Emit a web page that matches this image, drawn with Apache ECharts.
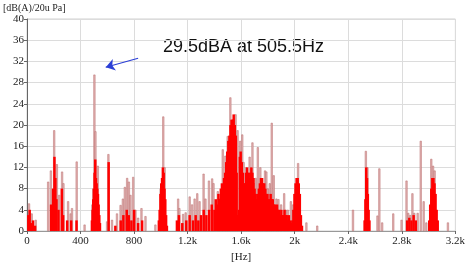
<!DOCTYPE html>
<html>
<head>
<meta charset="utf-8">
<script src="https://cdn.jsdelivr.net/npm/echarts@6/dist/echarts.min.js"></script>
<style>
  html, body { margin: 0; padding: 0; background: #fff; }
  #chart { width: 468px; height: 268px; }
</style>
</head>
<body>
<div id="chart"></div>
<script>
// peak-hold spikes [Hz, dB(A)]
const peakSpikes = [
  [17, 5.2], [37, 3.3], [67, 2.1],
  [160, 9.3], [180, 11.4], [205, 19], [225, 12.6], [242, 6.8], [264, 11.2], [274, 9],
  [309, 5.6], [328, 3.3], [338, 4.3], [373, 13.1], [432, 1.2],
  [490, 5], [497, 8], [505.5, 29.5], [513, 18.8], [531, 12.3], [600, 1.8], [610, 14.5],
  [637, 2.1], [674, 3.3], [701, 4.9], [718, 6.1], [733, 8.3], [750, 10], [763, 9.3],
  [775, 6.8], [795, 10.2], [812, 4], [832, 2.5], [857, 4.3], [887, 2.8], [961, 1.2],
  [1000, 8], [1020, 21.6], [1030, 12],
  [1131, 6.1], [1140, 4.3], [1168, 3.2], [1187, 3.5], [1217, 6.5], [1235, 5], [1254, 6.1],
  [1274, 7.1], [1291, 5.6], [1321, 10.8], [1335, 6.1], [1361, 9.5], [1385, 9.9], [1395, 9],
  [1427, 7.5], [1440, 6.1], [1464, 15.4], [1484, 14.2], [1501, 17.9], [1521, 25.2],
  [1538, 21], [1548, 21.2], [1560, 22], [1575, 19], [1595, 17],
  [1610, 18.2], [1620, 13], [1640, 12], [1655, 11], [1665, 14], [1686, 16.7], [1700, 9],
  [1710, 10], [1726, 15.8], [1745, 12], [1760, 9], [1780, 11.4], [1790, 11.2], [1800, 8],
  [1815, 9], [1830, 20.4], [1845, 10.5], [1865, 6.1], [1880, 6], [1900, 5], [1923, 7.1],
  [1935, 4], [1950, 4], [1973, 5.6], [1990, 5], [2010, 8],
  [2027, 12.8], [2089, 1.6], [2170, 1],
  [2437, 4], [2533, 15.1], [2545, 12], [2620, 2.9], [2634, 11.8], [2655, 1.6], [2738, 3.3],
  [2800, 2.1], [2837, 9.5], [2850, 3.4], [2865, 3], [2881, 7.1], [2895, 3.4], [2920, 3.4],
  [2943, 17], [2965, 5.6], [2985, 1.6], [3022, 13.6], [3035, 12.3], [3047, 11.4], [3146, 1.6]
];

// instantaneous spectrum [Hz, dB(A)]
const spectrum = [
  [10, 3], [20, 4], [30, 1.5], [45, 2], [60, 1],
  [180, 5], [195, 8], [205, 14], [212, 10], [220, 6], [235, 4], [260, 8], [270, 3],
  [300, 2], [330, 2], [370, 2],
  [485, 2], [490, 4], [495, 6], [500, 8], [505, 11], [510, 13.5], [515, 10], [520, 9],
  [525, 8], [530, 7], [535, 5], [540, 3], [545, 1.5],
  [610, 13],
  [660, 1], [700, 2], [720, 3], [745, 4], [760, 3], [780, 2], [800, 4], [830, 1.5], [860, 2],
  [985, 2], [991, 4], [997, 7], [1003, 9], [1009, 10], [1015, 12], [1021, 11], [1027, 8],
  [1033, 6], [1039, 3], [1045, 1],
  [1120, 2], [1135, 3], [1160, 1.5], [1190, 2], [1215, 3], [1240, 2], [1260, 3], [1280, 2],
  [1300, 3], [1320, 4], [1340, 3], [1360, 4], [1380, 5], [1400, 4], [1410, 6], [1420, 5],
  [1430, 7], [1440, 6], [1448, 8], [1456, 9], [1464, 7], [1472, 10], [1480, 11], [1488, 13],
  [1496, 15], [1504, 17], [1512, 18], [1520, 20], [1528, 21], [1536, 21], [1544, 22],
  [1552, 20], [1560, 18], [1566, 11], [1572, 3], [1578, 1], [1584, 4], [1590, 14],
  [1596, 15], [1604, 13], [1612, 11], [1620, 9], [1628, 9], [1636, 11], [1644, 12],
  [1652, 11], [1660, 10], [1668, 11], [1676, 12], [1684, 11], [1692, 10], [1700, 8],
  [1708, 7], [1716, 6], [1724, 7], [1732, 8], [1740, 9], [1748, 10], [1756, 10], [1764, 9],
  [1772, 9], [1780, 8], [1788, 7], [1796, 7], [1804, 6], [1812, 6], [1820, 7], [1828, 6],
  [1836, 6], [1844, 5], [1852, 5], [1860, 4], [1868, 5], [1876, 4], [1884, 4], [1892, 3],
  [1900, 4], [1908, 3], [1916, 3], [1924, 4], [1932, 3], [1940, 3], [1948, 2], [1956, 3],
  [1964, 2], [1972, 1.5], [1982, 2],
  [1990, 4], [1998, 7], [2006, 9], [2014, 10], [2022, 10], [2030, 9], [2038, 7], [2046, 3], [2054, 1],
  [2522, 2], [2528, 6], [2534, 12], [2540, 10], [2546, 7], [2552, 4], [2558, 2],
  [2840, 2], [2856, 2.5], [2872, 2], [2888, 3], [2904, 2],
  [3005, 2], [3012, 5], [3020, 8], [3028, 10], [3036, 10], [3044, 9], [3052, 7], [3060, 4], [3068, 2]
];

const maxPoint = [505.5, 29.5];
const arrowFrom = [832, 32.6];
const arrowTo = [590, 30.9];

const chart = echarts.init(document.getElementById('chart'));

const option = {
  animation: false,
  backgroundColor: '#fff',
  grid: { left: 27, right: 9, top: 19, bottom: 35, show: true, borderColor: '#d0d0d0', borderWidth: 1 },
  xAxis: {
    type: 'value',
    min: 0,
    max: 3200,
    interval: 400,
    name: '[Hz]',
    nameLocation: 'middle',
    nameGap: 21,
    nameTextStyle: { fontFamily: 'Liberation Serif', fontSize: 11, color: '#222' },
    axisLine: { lineStyle: { color: '#999' } },
    axisTick: { show: true, length: 3, lineStyle: { color: '#666' } },
    axisLabel: {
      fontFamily: 'Liberation Serif', fontSize: 11, color: '#222', margin: 5,
      formatter: v => v >= 1000 ? (v / 1000) + 'k' : v
    },
    splitLine: { lineStyle: { color: '#dcdcdc' } }
  },
  yAxis: {
    type: 'value',
    min: 0,
    max: 40,
    interval: 4,
    name: '[dB(A)/20u Pa]',
    nameLocation: 'end',
    nameGap: 4,
    nameTextStyle: { fontFamily: 'Liberation Serif', fontSize: 10, color: '#222', align: 'left', padding: [0, 0, 0, -24] },
    axisLine: { show: true, lineStyle: { color: '#666' } },
    axisTick: { show: true, length: 3, lineStyle: { color: '#666' } },
    axisLabel: { fontFamily: 'Liberation Serif', fontSize: 11, color: '#222', margin: 3 },
    splitLine: { lineStyle: { color: '#dcdcdc' } }
  },
  series: [
    {
      name: 'peak',
      type: 'bar',
      barWidth: 2,
      barGap: '-100%',
      itemStyle: { color: '#e2b4b4', borderColor: '#b86a6a', borderWidth: 0.5 },
      data: peakSpikes,
      markLine: {
        silent: true,
        symbol: ['none', 'arrow'],
        symbolSize: [9, 9],
        lineStyle: { color: '#2b3fd6', width: 1.2, type: 'solid' },
        label: { show: false },
        data: [[{ coord: arrowFrom }, { coord: arrowTo }]]
      }
    },
    {
      name: 'spectrum',
      type: 'bar',
      barWidth: 2.5,
      barGap: '-100%',
      itemStyle: { color: '#ff0000' },
      data: spectrum
    }
  ],
  graphic: [
    {
      type: 'text',
      left: 163,
      top: 38,
      style: {
        text: maxPoint[1] + 'dBA at ' + maxPoint[0] + 'Hz',
        fontFamily: 'Liberation Sans',
        fontSize: 18,
        fill: '#111'
      }
    }
  ]
};

chart.setOption(option);
</script>
</body>
</html>
